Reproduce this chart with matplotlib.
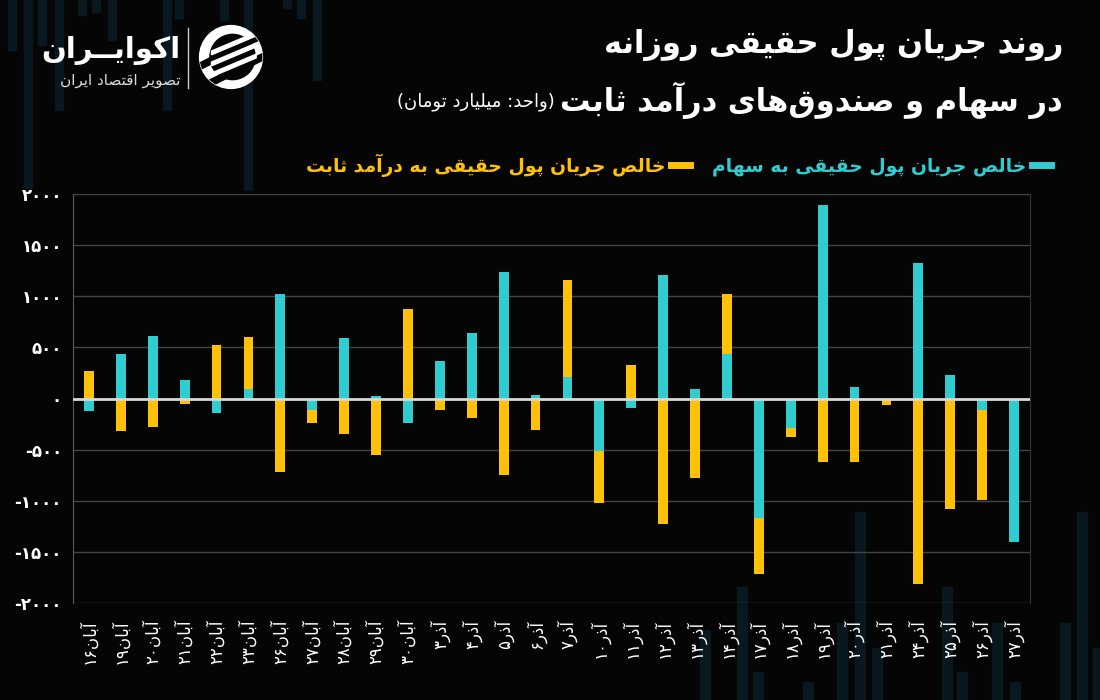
import re
import numpy as np
import matplotlib
matplotlib.use("Agg")
import matplotlib.pyplot as plt
from matplotlib.lines import Line2D
from matplotlib.patches import Rectangle, Circle, Polygon

# ---------------- data (billion toman) ---------------- #
days = ["آبان۱۶", "آبان۱۹", "آبان۲۰", "آبان۲۱", "آبان۲۲", "آبان۲۳",
        "آبان۲۶", "آبان۲۷", "آبان۲۸", "آبان۲۹", "آبان۳۰",
        "آذر۳", "آذر۴", "آذر۵", "آذر۶", "آذر۷", "آذر۱۰", "آذر۱۱",
        "آذر۱۲", "آذر۱۳", "آذر۱۴", "آذر۱۷", "آذر۱۸", "آذر۱۹",
        "آذر۲۰", "آذر۲۱", "آذر۲۴", "آذر۲۵", "آذر۲۶", "آذر۲۷"]

stocks = [-125, 440, 615, 185, -140, 90, 1020, -110, 590, 25,
          -240, 370, 645, 1240, 35, 210, -510, -95, 1205, 90,
          435, -1170, -285, 1890, 110, 0, 1330, 230, -115, -1405]

fixed_income = [270, -315, -280, -55, 525, 515, -720, -130, -345, -555,
                875, -115, -195, -750, -305, 950, -510, 330, -1230, -780,
                590, -545, -90, -620, -620, -60, -1810, -1080, -875, 0]

yticks = [-2000, -1500, -1000, -500, 0, 500, 1000, 1500, 2000]

title1 = "روند جریان پول حقیقی روزانه"
title2 = "در سهام و صندوق\u200cهای درآمد ثابت"
unit = "(واحد: میلیارد تومان)"
lab_stock = "خالص جریان پول حقیقی به سهام"
lab_fixed = "خالص جریان پول حقیقی به درآمد ثابت"
brand = "اکوایــران"
brand_sub = "تصویر اقتصاد ایران"

CYAN = "#30CCD0"
ORANGE = "#FFC107"
BG = "#050505"
DECO = "#08181e"

# ---------------- persian shaping (matplotlib has no bidi) ---------------- #
FORMS = {
    'ا': ('\ufe8d', '\ufe8e'), 'آ': ('\ufe81', '\ufe82'),
    'د': ('\ufea9', '\ufeaa'), 'ذ': ('\ufeab', '\ufeac'),
    'ر': ('\ufead', '\ufeae'), 'ز': ('\ufeaf', '\ufeb0'),
    'و': ('\ufeed', '\ufeee'),
    'ب': ('\ufe8f', '\ufe90', '\ufe91', '\ufe92'),
    'ت': ('\ufe95', '\ufe96', '\ufe97', '\ufe98'),
    'ث': ('\ufe99', '\ufe9a', '\ufe9b', '\ufe9c'),
    'ج': ('\ufe9d', '\ufe9e', '\ufe9f', '\ufea0'),
    'ح': ('\ufea1', '\ufea2', '\ufea3', '\ufea4'),
    'خ': ('\ufea5', '\ufea6', '\ufea7', '\ufea8'),
    'س': ('\ufeb1', '\ufeb2', '\ufeb3', '\ufeb4'),
    'ص': ('\ufeb9', '\ufeba', '\ufebb', '\ufebc'),
    'ق': ('\ufed5', '\ufed6', '\ufed7', '\ufed8'),
    'ل': ('\ufedd', '\ufede', '\ufedf', '\ufee0'),
    'م': ('\ufee1', '\ufee2', '\ufee3', '\ufee4'),
    'ن': ('\ufee5', '\ufee6', '\ufee7', '\ufee8'),
    'ه': ('\ufee9', '\ufeea', '\ufeeb', '\ufeec'),
    'پ': ('\ufb56', '\ufb57', '\ufb58', '\ufb59'),
    'ک': ('\ufb8e', '\ufb8f', '\ufb90', '\ufb91'),
    'ی': ('\ufbfc', '\ufbfd', '\ufbfe', '\ufbff'),
    'ـ': ('ـ', 'ـ', 'ـ', 'ـ'),
}


def fa(text):
    out = []
    for i, c in enumerate(text):
        f = FORMS.get(c)
        if f is None:
            if c != '\u200c':
                out.append(c)
            continue
        prev = text[i - 1] if i > 0 else ''
        nxt = text[i + 1] if i + 1 < len(text) else ''
        after = prev in FORMS and len(FORMS[prev]) == 4
        before = len(f) == 4 and nxt in FORMS
        if after and before:
            g = f[3]
        elif after:
            g = f[1]
        elif before:
            g = f[2]
        else:
            g = f[0]
        out.append(g)
    runs = re.findall(r'[0-9\u06f0-\u06f9]+|[^0-9\u06f0-\u06f9]', ''.join(out))
    return ''.join(runs[::-1]).translate(str.maketrans('()', ')('))


def fa_num(v):
    return str(v).translate(str.maketrans('0123456789', '۰۱۲۳۴۵۶۷۸۹'))


plt.rcParams['font.family'] = ['DejaVu Sans']

fig = plt.figure(figsize=(11, 7), dpi=100, facecolor=BG)

# background barcode decoration (pixel x, length)
deco_top = [(8, 50), (24, 188), (38, 45), (55, 110), (78, 15), (92, 12),
            (108, 40), (163, 110), (175, 18), (220, 20), (244, 190),
            (283, 8), (297, 18), (313, 80)]
for xp, h in deco_top:
    fig.add_artist(Rectangle((xp / 1100, 1 - h / 700), 8 / 1100, h / 700,
                             transform=fig.transFigure, color=DECO, zorder=0))
deco_bot = [(700, 630), (737, 587), (753, 672), (803, 682), (837, 623),
            (855, 512), (872, 648), (942, 587), (957, 672), (992, 623),
            (1010, 682), (1060, 623), (1077, 512), (1093, 648)]
for xp, yp in deco_bot:
    fig.add_artist(Rectangle((xp / 1100, 0), 10 / 1100, 1 - yp / 700,
                             transform=fig.transFigure, color=DECO, zorder=0))

ax = fig.add_axes([73 / 1100, 1 - 603 / 700, (1030 - 73) / 1100, (603 - 194) / 700])
ax.set_facecolor('none')

x = np.arange(len(days))
stocks = np.array(stocks)
fixed_income = np.array(fixed_income)
bottom_fixed = np.where(np.sign(stocks) == np.sign(fixed_income), stocks, 0)

ax.bar(x, stocks, width=0.31, color=CYAN, zorder=3)
ax.bar(x, fixed_income, bottom=bottom_fixed, width=0.31, color=ORANGE, zorder=3)

ax.set_xlim(-0.5, len(days) - 0.5)
ax.set_ylim(-2000, 2000)
ax.set_yticks(yticks)
ax.set_yticklabels([fa_num(v) for v in yticks], color='white', fontsize=12,
                   fontweight='bold')
ax.set_xticks(x)
ax.set_xticklabels([fa(d) for d in days], rotation=90, color='white', fontsize=12)
ax.tick_params(axis='y', length=0, pad=8)
ax.tick_params(axis='x', length=0, pad=12)

for v in yticks:
    ax.axhline(v, color='#444444', lw=1, zorder=1)
ax.axhline(0, color='#d8d8d8', lw=2, zorder=4)
for s in ['top', 'bottom']:
    ax.spines[s].set_visible(False)
ax.spines['left'].set_color('#5a5a5a')
ax.spines['right'].set_color('#333333')

# titles
t1 = fig.text(1063 / 1100, 1 - 45 / 700, fa(title1), ha='right', va='center',
              color='white', fontsize=22, fontweight='bold')
t2 = fig.text(1063 / 1100, 1 - 100 / 700, fa(title2), ha='right', va='center',
              color='white', fontsize=22, fontweight='bold')
fig.canvas.draw()
bb = t2.get_window_extent()
fig.text((bb.x0 - 6) / 1100, 1 - 102 / 700, fa(unit), ha='right', va='center',
         color='white', fontsize=13)

# legend
handles = [Line2D([], [], color=ORANGE, lw=5), Line2D([], [], color=CYAN, lw=5)]
leg = fig.legend(handles, [fa(lab_fixed), fa(lab_stock)], ncols=2, markerfirst=False,
                 loc='center right', bbox_to_anchor=(1068 / 1100, 1 - 165 / 700),
                 frameon=False, handlelength=1.0, handletextpad=0.3,
                 columnspacing=1.2, prop=dict(size=13.5, weight='bold'))
for t, c in zip(leg.get_texts(), [ORANGE, CYAN]):
    t.set_color(c)

# logo
fig.text(180 / 1100, 1 - 50 / 700, fa(brand), ha='right', va='center',
         color='white', fontsize=21, fontweight='bold')
fig.text(180 / 1100, 1 - 80 / 700, fa(brand_sub), ha='right', va='center',
         color='#dddddd', fontsize=11)
fig.add_artist(Line2D([188 / 1100, 188 / 1100], [1 - 28 / 700, 1 - 88 / 700],
                      color='#cccccc', lw=1))
iax = fig.add_axes([198 / 1100, 1 - 90 / 700, 66 / 1100, 66 / 700])
iax.set_xlim(-1.05, 1.05)
iax.set_ylim(-1.05, 1.05)
iax.set_aspect('equal')
iax.axis('off')
disc = Circle((0, 0), 1.0, color='white')
iax.add_patch(disc)
for off in [-0.35, 0.35]:
    gap = Polygon([(-1.5, off - 0.9 - 0.11), (1.5, off + 0.6 - 0.11),
                   (1.5, off + 0.6 + 0.11), (-1.5, off - 0.9 + 0.11)],
                  color=BG)
    gap.set_clip_path(disc)
    iax.add_patch(gap)
inner = Circle((0.05, 0.0), 0.72, color=BG)
inner.set_clip_path(disc)
iax.add_patch(inner)
for off in [-0.35, 0.0, 0.35]:
    band = Polygon([(-0.62, off - 0.28), (0.8, off + 0.32),
                    (0.8, off + 0.44), (-0.62, off - 0.16)], color='white')
    band.set_clip_path(disc)
    iax.add_patch(band)

fig.savefig('out.png', dpi=100, facecolor=BG)
